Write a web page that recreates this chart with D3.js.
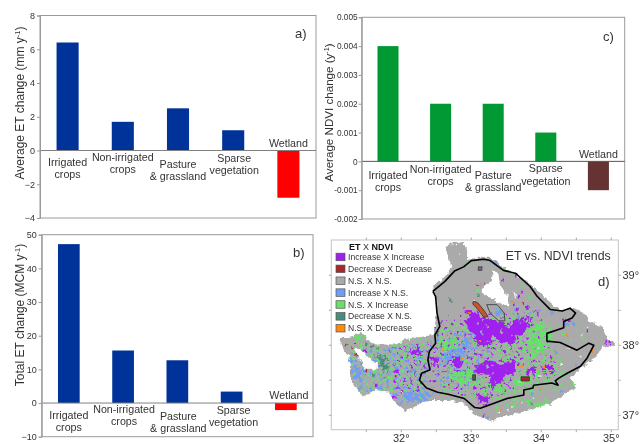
<!DOCTYPE html>
<html><head><meta charset="utf-8">
<script src="https://cdn.jsdelivr.net/npm/d3@7"></script>
<style>
html,body{margin:0;padding:0;background:#fff}
svg{display:block;filter:blur(0.3px)}
text{font-family:"Liberation Sans",Arial,sans-serif;fill:#333}
</style></head><body>
<svg id="c" width="643" height="444"></svg>
<script>
const categories = ["Irrigated crops","Non-irrigated crops","Pasture & grassland","Sparse vegetation","Wetland"];
const categoryLines = [["Irrigated","crops"],["Non-irrigated","crops"],["Pasture","& grassland"],["Sparse","vegetation"],["Wetland"]];
const avgEt = [6.4,1.7,2.5,1.2,-2.8];
const totalEt = [47.2,15.6,12.7,3.4,-2.1];
const avgNdvi = [0.004,0.002,0.002,0.001,-0.001];
const ticksA = [-4,-2,0,2,4,6,8];
const ticksB = [-10,0,10,20,30,40,50];
const ticksC = [-0.002,-0.001,0,0.001,0.002,0.003,0.004,0.005];

const legendNames = ["Increase X Increase","Decrease X Decrease","N.S. X N.S.","Increase X N.S.","N.S. X Increase","Decrease X N.S.","N.S. X Decrease"];
const legendColors = ["#a020f0","#a82828","#aaaaaa","#6f9cf5","#68e06c","#478f7c","#ff8a0a"];

const basin = [[32.63,39.41],[32.75,39.48],[32.87,39.47],[32.94,39.39],[32.94,39.22],[33.08,39.25],[33.27,39.25],[33.34,39.20],[33.51,39.08],[33.70,38.98],[33.89,38.84],[34.08,38.65],[34.27,38.50],[34.49,38.53],[34.60,38.47],[34.70,38.34],[34.89,38.24],[34.95,38.08],[35.06,38.04],[35.03,38.00],[34.87,37.98],[34.80,37.86],[34.65,37.74],[34.41,37.53],[34.50,37.40],[34.27,37.27],[34.13,37.17],[33.84,37.08],[33.46,36.98],[33.27,36.92],[33.18,36.96],[33.05,37.00],[33.00,37.08],[32.90,37.17],[32.64,37.22],[32.40,37.22],[32.26,37.17],[32.07,37.06],[31.93,37.17],[31.81,37.34],[31.62,37.36],[31.45,37.27],[31.33,37.43],[31.27,37.53],[31.26,37.86],[31.18,37.91],[31.12,38.08],[31.14,38.12],[31.27,38.12],[31.44,38.19],[31.51,38.08],[31.62,38.01],[31.95,38.01],[32.02,38.08],[32.24,38.11],[32.46,38.15],[32.49,38.34],[32.51,38.48],[32.49,38.70],[32.44,38.84],[32.56,38.93],[32.72,39.10],[32.68,39.24]];
const boundary = [[32.45,38.77],[32.62,38.91],[32.76,39.06],[32.89,39.12],[33.00,39.21],[33.18,39.23],[33.27,39.21],[33.46,39.07],[33.63,39.03],[33.84,38.84],[33.94,38.70],[34.13,38.51],[34.30,38.49],[34.41,38.53],[34.49,38.46],[34.44,38.39],[34.32,38.34],[34.32,38.25],[34.08,38.17],[34.08,38.06],[34.27,38.04],[34.51,37.93],[34.68,38.03],[34.75,38.00],[34.65,37.81],[34.56,37.70],[34.37,37.60],[34.25,37.53],[34.20,37.49],[34.24,37.43],[34.15,37.46],[33.89,37.43],[33.88,37.39],[33.75,37.36],[33.75,37.29],[33.51,37.24],[33.13,37.10],[33.05,37.11],[32.90,37.24],[32.67,37.30],[32.52,37.33],[32.36,37.39],[32.26,37.50],[32.29,37.60],[32.41,37.65],[32.38,37.79],[32.40,37.91],[32.49,38.03],[32.48,38.15],[32.55,38.27],[32.51,38.46],[32.49,38.70],[32.45,38.77]];
const lakes = [
 [[33.15,38.80],[33.30,38.94],[33.30,39.10],[33.39,39.00],[33.41,38.84],[33.53,38.70],[33.53,38.55],[33.44,38.58],[33.34,38.65],[33.18,38.72]],
 [[33.56,38.81],[33.63,38.74],[33.64,38.65],[33.60,38.77]],
 [[31.32,37.96],[31.41,37.96],[31.53,37.81],[31.65,37.74],[31.65,37.65],[31.49,37.65],[31.41,37.79]]
];
const greenZones = [
 [[32.5,38.3],[33.9,38.5],[34.4,37.6],[33.8,37.1],[32.6,37.3]],
 [[31.2,38.15],[32.4,38.1],[32.3,37.2],[31.4,37.3]]
];
const blueZones = [
 [[32.5,38.2],[33.2,38.2],[33.4,37.7],[32.9,37.35],[32.5,37.4]],
 [[31.25,37.9],[32.45,38.05],[32.4,37.15],[31.9,37.15],[31.4,37.4]]
];
const purpleZones = [
 [[32.5,38.4],[34.0,38.5],[34.3,37.6],[33.2,37.2],[32.4,37.4]],
 [[31.9,38.0],[32.45,38.05],[32.3,37.3],[31.9,37.3]]
];
const greenPatches = [
 [[33.89,38.34],[34.13,38.29],[34.18,38.10],[34.04,37.91],[33.89,37.81],[33.80,37.91],[33.82,38.15]],
 [[32.75,37.62],[33.03,37.67],[33.08,37.48],[32.84,37.43],[32.70,37.53]],
 [[33.65,37.53],[33.94,37.62],[33.99,37.53],[33.75,37.43],[33.56,37.43]],
 [[33.89,37.20],[34.13,37.22],[34.08,37.12],[33.89,37.05]],
 [[32.51,38.05],[32.75,38.10],[32.84,37.96],[32.60,37.91]],
 [[31.32,38.17],[31.46,38.20],[31.49,38.08],[31.37,38.08]],
 [[33.22,37.46],[33.51,37.39],[33.41,37.29]]
];
const bluePatches = [
 [[32.63,37.89],[32.89,37.96],[32.94,37.84],[32.75,37.77],[32.60,37.79]],
 [[33.31,38.53],[33.44,38.50],[33.46,38.41],[33.37,38.43]],
 [[31.99,37.31],[32.27,37.34],[32.49,37.29],[32.37,37.20],[32.08,37.22]],
 [[32.89,38.08],[32.99,38.10],[32.96,37.98],[32.87,37.98]],
 [[31.32,37.72],[31.46,37.67],[31.46,37.48],[31.32,37.53]]
];
const tealPatches = [
 [[31.63,37.89],[31.82,37.84],[31.84,37.62],[31.75,37.62],[31.68,37.77]]
];
const purplePatches = [
 [[32.91,38.34],[32.96,38.46],[32.87,38.49],[33.03,38.50],[33.18,38.39],[33.37,38.34],[33.51,38.27],[33.60,38.34],[33.80,38.39],[33.84,38.29],[33.77,38.17],[33.65,38.12],[33.58,38.00],[33.44,38.05],[33.32,38.10],[33.25,37.98],[33.08,38.00],[33.06,38.15],[32.94,38.22]],
 [[33.06,37.70],[33.22,37.77],[33.41,37.72],[33.58,37.81],[33.65,37.74],[33.63,37.60],[33.49,37.58],[33.41,37.46],[33.32,37.50],[33.37,37.39],[33.27,37.38],[33.27,37.58],[33.06,37.62]],
 [[33.10,37.27],[33.24,37.27],[33.26,37.16],[33.14,37.15]],
 [[34.06,37.72],[34.20,37.72],[34.16,37.63],[34.04,37.65]],
 [[33.80,37.68],[33.92,37.68],[33.90,37.58],[33.80,37.60]],
 [[32.42,37.84],[32.52,37.82],[32.50,37.72],[32.42,37.74]],
 [[32.72,37.82],[32.88,37.80],[32.84,37.71],[32.72,37.72]],
 [[32.14,37.94],[32.30,37.92],[32.26,37.86],[32.14,37.88]]
];
const purpleSpecks = [[33.72,38.76],[33.68,38.70],[33.60,38.58],[33.66,38.52],[33.80,38.54],[34.32,38.36],[34.40,38.34],[34.66,38.20],[34.98,38.05],[34.92,38.04],[33.18,36.99],[31.94,37.62],[32.06,37.48],[31.48,37.92],[31.64,37.42],[31.90,37.26],[33.64,39.00],[33.46,38.94]];
const blueSpecks = [[33.16,39.12],[33.34,39.16],[33.62,38.50],[33.68,38.40],[33.84,38.46],[33.98,38.50],[34.16,38.46],[34.36,38.30],[34.46,38.30],[34.20,37.90],[31.72,37.40],[31.26,37.78],[31.30,37.62],[31.40,37.38],[33.86,37.30],[34.50,37.72],[33.24,36.96],[34.30,37.34]];
const greenSpecks = [[32.96,39.16],[33.10,38.78],[33.48,39.10],[33.72,38.86],[33.84,38.70],[34.32,38.16],[34.50,38.22],[34.60,38.10],[34.42,38.08],[34.46,37.46],[34.36,37.40],[34.20,37.36],[33.66,37.22],[33.60,37.12],[33.36,37.10],[34.12,37.14],[34.26,37.42]];
const tealSpecks = [[31.58,37.98],[31.66,37.96],[31.60,37.58],[31.76,37.54],[31.84,37.92],[31.50,38.02],[31.90,37.72],[33.10,38.72],[32.70,38.64],[33.86,37.16],[32.20,37.62]];
const redSpecks = [[31.22,38.00],[31.34,38.02],[31.30,37.96],[31.36,37.86],[31.50,37.64],[31.92,37.56],[32.00,37.34],[32.90,38.54],[33.10,38.86],[33.20,38.88],[33.74,38.60],[32.68,37.44],[33.12,37.30]];
const orangeSpecks = [[32.58,37.96],[32.60,37.92],[32.98,38.46],[33.60,38.62],[34.36,38.14],[34.66,38.02],[34.74,37.92],[33.12,38.06],[32.86,37.82],[33.70,37.70],[33.98,37.36],[34.04,37.68],[31.56,37.76],[32.02,37.32],[33.42,37.06]];
const whiteSpecks = [[31.99,37.34],[32.01,37.32],[33.96,37.96],[33.94,37.78],[34.30,37.72],[34.40,37.96],[34.56,37.84],[34.58,38.14],[34.66,38.26],[33.58,37.12],[33.40,37.04],[33.52,37.08],[33.72,37.18],[33.88,37.24],[33.98,37.56],[33.70,37.48],[33.04,38.64],[32.80,39.44],[32.84,39.30],[31.34,37.90]];
const wetlands = [
 [[33.03,38.63],[33.09,38.61],[33.18,38.50],[33.24,38.41],[33.18,38.40],[33.08,38.53],[33.02,38.59]],
 [[33.22,38.58],[33.37,38.58],[33.47,38.46],[33.48,38.35],[33.39,38.35],[33.27,38.46]],
 [[33.71,37.55],[33.83,37.55],[33.83,37.49],[33.71,37.49]],
 [[33.02,37.58],[33.06,37.58],[33.06,37.50],[33.02,37.50]],
 [[33.10,39.12],[33.15,39.12],[33.15,39.07],[33.10,39.07]]
];
const wetlandFills = ["#c8562a","none","#a82828","#555555","#8a6a6a"];
const lonTicks = [32,33,34,35];
const latTicks = [37,38,39];
const lonMinor = [31.5,32,32.5,33,33.5,34,34.5,35];
const latMinor = [37,37.5,38,38.5,39];

const svg = d3.select("#c");
const frameCol = "#9a9a9a";

function panel(o){
  const g = svg.append("g");
  const x = d3.scaleBand().domain(categories).range([o.x0,o.x1]).paddingInner(0.6).paddingOuter(0.3);
  const y = d3.scaleLinear().domain(o.domain).range([o.y1,o.y0]);
  g.append("rect").attr("x",o.x0).attr("y",o.y0).attr("width",o.x1-o.x0).attr("height",o.y1-o.y0)
    .attr("fill","none").attr("stroke",frameCol).attr("stroke-width",1);
  g.selectAll("rect.bar").data(o.values).join("rect").attr("class","bar")
    .attr("x",(d,i)=>x(categories[i])).attr("width",x.bandwidth())
    .attr("y",d=>y(Math.max(d,0))).attr("height",d=>Math.abs(y(d)-y(0)))
    .attr("fill",(d,i)=>o.colors(i));
  g.append("line").attr("x1",o.x0).attr("x2",o.x1).attr("y1",y(0)).attr("y2",y(0))
    .attr("stroke",o.zero).attr("stroke-width",1);
  const ax = g.append("g").attr("transform",`translate(${o.x0},0)`)
    .call(d3.axisLeft(y).tickValues(o.ticks).tickSize(3).tickPadding(o.pad||2).tickFormat(o.fmt));
  ax.select(".domain").attr("stroke",frameCol);
  ax.selectAll("line").attr("stroke",frameCol);
  ax.selectAll("text").attr("font-size",o.tickSize).attr("fill","#333");
  categoryLines.forEach((lines,i)=>{
    lines.forEach((t,j)=>{
      g.append("text").attr("x",x(categories[i])+x.bandwidth()/2+o.lx[i])
        .attr("y",o.ly[i]+j*12.2).attr("text-anchor","middle").attr("font-size",10.7).text(t);
    });
  });
  const yl = g.append("text").attr("transform",`translate(${o.tx},${o.ty}) rotate(-90)`)
    .attr("text-anchor","middle").attr("font-size",o.labelSize);
  yl.append("tspan").text(o.label);
  yl.append("tspan").attr("font-size",o.labelSize*0.62).attr("dy",-4.5).text("-1");
  yl.append("tspan").attr("dy",4.5).text(")");
  g.append("text").attr("x",o.px).attr("y",o.py).attr("font-size",13).text(o.tag);
}
const blue = "#003399";
panel({x0:40,x1:316,y0:15.5,y1:218,domain:[-4,8],values:avgEt,ticks:ticksA,fmt:d3.format("d"),
  colors:i=>i<4?blue:"#ff0000",zero:"#808080",tickSize:9,
  lx:[0,0,0,1,0],ly:[166,161,168,162,147],tx:24,ty:103,labelSize:12,label:"Average ET change (mm y",
  px:295,py:38,tag:"a)"});
panel({x0:41.7,x1:313,y0:234.7,y1:436.7,domain:[-10,50],values:totalEt,ticks:ticksB,fmt:d3.format("d"),
  colors:i=>i<4?blue:"#ff0000",zero:"#808080",tickSize:9,
  lx:[0,1,1,2,3],ly:[419,413,419.5,414,399],tx:24,ty:315,labelSize:12,label:"Total ET change (MCM y",
  px:293,py:257,tag:"b)"});
panel({x0:361.7,x1:624.7,y0:17.3,y1:219,domain:[-0.002,0.005],values:avgNdvi,ticks:ticksC,
  fmt:d=>d===0?"0":d3.format(".3f")(d).replace("\u2212","-"),
  colors:i=>i<4?"#009933":"#663333",zero:"#555",tickSize:8.3,pad:1,
  lx:[0,0,0,0,0],ly:[179,172.7,179,172.3,158],tx:333,ty:112.5,labelSize:11.6,label:"Average NDVI change (y",
  px:603,py:41,tag:"c)"});

// map panel
const mx0=331.3,mx1=618.3,my0=240,my1=429.7;
const lon = d3.scaleLinear().domain([31,35.1]).range([mx0,mx1]);
const lat = d3.scaleLinear().domain([36.794,39.504]).range([my1,my0]);
const mline = d3.line().x(d=>lon(d[0])).y(d=>lat(d[1]));
const poly = d=>mline(d)+"Z";
const defs = svg.append("defs");
function grain(id,freq,seed,k,c,disp,blur){
  const f = defs.append("filter").attr("id",id).attr("filterUnits","userSpaceOnUse")
    .attr("x",mx0).attr("y",my0).attr("width",mx1-mx0).attr("height",my1-my0)
    .attr("color-interpolation-filters","sRGB");
  f.append("feTurbulence").attr("type","fractalNoise").attr("baseFrequency",freq).attr("numOctaves",2).attr("seed",seed).attr("result","n");
  f.append("feDisplacementMap").attr("in","SourceGraphic").attr("in2","n").attr("scale",disp).attr("xChannelSelector","R").attr("yChannelSelector","G").attr("result","d");
  f.append("feColorMatrix").attr("in","n").attr("type","matrix").attr("values",`0 0 0 0 0 0 0 0 0 0 0 0 0 0 0 ${k} 0 0 0 ${c}`).attr("result","m");
  f.append("feComposite").attr("in","d").attr("in2","m").attr("operator","in").attr("result","o");
  f.append("feGaussianBlur").attr("in","o").attr("stdDeviation",blur);
}
grain("zoneGreen",0.3,11,9,-4.9,6,0.4);
grain("zoneBlue",0.3,23,9,-5.1,6,0.4);
grain("zonePurple",0.3,37,9,-5.5,6,0.4);
grain("patchMid",0.25,5,8,-3.0,10,0.45);
grain("patchDense",0.2,9,8,-1.7,12,0.45);
const clip = defs.append("clipPath").attr("id","basinClip");
clip.append("path").attr("d",poly(basin));
const edgeF = defs.append("filter").attr("id","edge").attr("filterUnits","userSpaceOnUse")
  .attr("x",mx0).attr("y",my0).attr("width",mx1-mx0).attr("height",my1-my0).attr("color-interpolation-filters","sRGB");
edgeF.append("feTurbulence").attr("type","fractalNoise").attr("baseFrequency",0.25).attr("numOctaves",2).attr("seed",3).attr("result","n");
edgeF.append("feDisplacementMap").attr("in","SourceGraphic").attr("in2","n").attr("scale",5).attr("xChannelSelector","R").attr("yChannelSelector","G").attr("result","d");
edgeF.append("feGaussianBlur").attr("in","d").attr("stdDeviation",0.4);

const M = svg.append("g");
M.append("rect").attr("x",mx0).attr("y",my0).attr("width",mx1-mx0).attr("height",my1-my0)
  .attr("fill","#fff").attr("stroke","#c4c4c4").attr("stroke-width",1);
M.append("path").attr("d",poly(basin)).attr("fill","#aaaaaa").attr("filter","url(#edge)");
const inner = M.append("g").attr("clip-path","url(#basinClip)");
function layer(list,col,filter){
  const g = inner.append("g").attr("filter",`url(#${filter})`);
  list.forEach(p=>g.append("path").attr("d",poly(p)).attr("fill",col));
}
layer(greenZones,legendColors[4],"zoneGreen");
layer(blueZones,legendColors[3],"zoneBlue");
layer(purpleZones,legendColors[0],"zonePurple");
layer(greenPatches,legendColors[4],"patchMid");
layer(bluePatches,legendColors[3],"patchMid");
layer(tealPatches,legendColors[5],"patchMid");
layer(purplePatches,legendColors[0],"patchDense");
const soft = M.append("g").attr("filter","url(#edge)");
function specks(list,col,s){
  soft.selectAll(null).data(list).join("rect")
    .attr("x",d=>lon(d[0])-s/2).attr("y",d=>lat(d[1])-s/2).attr("width",s).attr("height",s).attr("fill",col);
}
specks(blueSpecks,legendColors[3],2.6);
specks(greenSpecks,legendColors[4],2.6);
specks(tealSpecks,legendColors[5],2.4);
specks(purpleSpecks,legendColors[0],2.6);
specks(redSpecks,legendColors[1],1.8);
specks(orangeSpecks,legendColors[6],1.8);
specks(whiteSpecks,"#ffffff",1.4);
lakes.forEach(p=>soft.append("path").attr("d",poly(p)).attr("fill","#fff"));
wetlands.forEach((p,i)=>{
  M.append("path").attr("d",poly(p)).attr("fill",wetlandFills[i]).attr("stroke","#333").attr("stroke-width",0.8);
});
M.append("path").attr("d",mline(boundary)).attr("fill","none").attr("stroke","#000").attr("stroke-width",1.6).attr("stroke-linejoin","round");
// frame ticks
lonMinor.forEach(v=>{
  [[my0,my0-2.5],[my1,my1+2.5]].forEach(s=>M.append("line").attr("x1",lon(v)).attr("x2",lon(v)).attr("y1",s[0]).attr("y2",s[1]).attr("stroke","#aaa"));
});
latMinor.forEach(v=>{
  [[mx0,mx0-2.5],[mx1,mx1+2.5]].forEach(s=>M.append("line").attr("y1",lat(v)).attr("y2",lat(v)).attr("x1",s[0]).attr("x2",s[1]).attr("stroke","#aaa"));
});
lonTicks.forEach(v=>M.append("text").attr("x",lon(v)).attr("y",442).attr("text-anchor","middle").attr("font-size",11).text(v+"°"));
latTicks.forEach(v=>M.append("text").attr("x",622.5).attr("y",lat(v)+4).attr("font-size",11).text(v+"°"));
M.append("text").attr("x",505.7).attr("y",260).attr("font-size",12.3).text("ET vs. NDVI trends");
M.append("text").attr("x",598).attr("y",286).attr("font-size",13).text("d)");
// legend
const lt = M.append("text").attr("x",349).attr("y",250).attr("font-size",9);
lt.append("tspan").attr("font-weight","bold").attr("fill","#111").text("ET");
lt.append("tspan").text(" X ");
lt.append("tspan").attr("font-weight","bold").attr("fill","#111").text("NDVI");
const legY = d3.scalePoint().domain(legendNames).range([256.7,328]);
legendNames.forEach((n,i)=>{
  M.append("rect").attr("x",336).attr("y",legY(n)-3.5).attr("width",9).attr("height",7.5)
    .attr("fill",legendColors[i]).attr("stroke","#555").attr("stroke-width",0.7);
  M.append("text").attr("x",348).attr("y",legY(n)+3.3).attr("font-size",8.6).text(n);
});
</script>
</body></html>
